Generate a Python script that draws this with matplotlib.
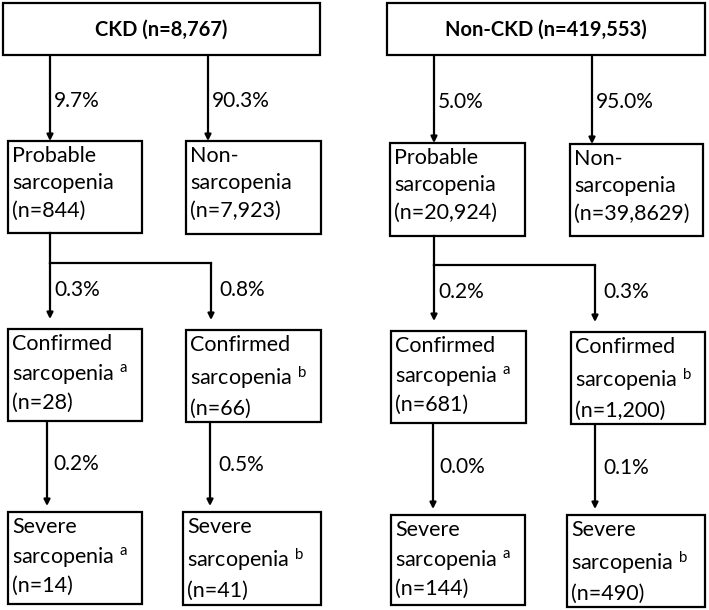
# Sarcopenia flow chart, CKD vs non-CKD
import matplotlib.pyplot as plt
from matplotlib.patches import Rectangle

plt.rcParams['font.family'] = ['Lato', 'DejaVu Sans']
plt.rcParams['mathtext.fontset'] = 'custom'
plt.rcParams['mathtext.rm'] = 'Lato'
plt.rcParams['mathtext.default'] = 'regular'

# node texts, one list per group
ckd_title = 'CKD (n=8,767)'
ckd_nodes = ['Probable\nsarcopenia\n(n=844)', 'Non-\nsarcopenia\n(n=7,923)',
             'Confirmed\nsarcopenia $^{a}$\n(n=28)', 'Confirmed\nsarcopenia $^{b}$\n(n=66)',
             'Severe\nsarcopenia $^{a}$\n(n=14)', 'Severe\nsarcopenia $^{b}$\n(n=41)']
ckd_pcts = ['9.7%', '90.3%', '0.3%', '0.8%', '0.2%', '0.5%']

non_title = 'Non-CKD (n=419,553)'
non_nodes = ['Probable\nsarcopenia\n(n=20,924)', 'Non-\nsarcopenia\n(n=39,8629)',
             'Confirmed\nsarcopenia $^{a}$\n(n=681)', 'Confirmed\nsarcopenia $^{b}$\n(n=1,200)',
             'Severe\nsarcopenia $^{a}$\n(n=144)', 'Severe\nsarcopenia $^{b}$\n(n=490)']
non_pcts = ['5.0%', '95.0%', '0.2%', '0.3%', '0.0%', '0.1%']

# layout in pixels (x0, x1, y0, y1)
ckd_layout = {
    'title': (3, 320, 3, 55),
    'boxes': [(8, 142, 141, 233), (186, 321, 141, 234),
              (8, 142, 329, 421), (186, 321, 330, 422),
              (8, 142, 512, 604), (183, 321, 512, 605)],
    'ax': [50, 208, 50, 211, 47, 210],
    'split_y': 263,
}
non_layout = {
    'title': (387, 705, 3, 55),
    'boxes': [(390, 525, 143, 236), (570, 703, 144, 236),
              (391, 526, 331, 423), (571, 705, 332, 424),
              (391, 525, 515, 605), (567, 705, 515, 607)],
    'ax': [434, 592, 434, 595, 433, 595],
    'split_y': 265,
}

LW = 1.6
FS = 15.5


def draw_box(ax, b, text, bold=False):
    x0, x1, y0, y1 = b
    ax.add_patch(Rectangle((x0, y0), x1 - x0, y1 - y0, fill=False,
                           edgecolor='black', linewidth=LW))
    if bold:
        ax.text((x0 + x1) / 2, (y0 + y1) / 2 + 1, text, ha='center', va='center',
                fontsize=14.5, fontweight='bold')
    else:
        ax.text(x0 + 4, y0 + 5, text, ha='left', va='top',
                fontsize=FS, linespacing=1.45)


def arrow(ax, x, y0, y1):
    ax.annotate('', xy=(x, y1), xytext=(x, y0),
                arrowprops=dict(arrowstyle='-|>', color='black', lw=LW,
                                mutation_scale=9, shrinkA=0, shrinkB=0))


def draw_panel(ax, title, nodes, pcts, lay):
    draw_box(ax, lay['title'], title, bold=True)
    boxes = lay['boxes']
    xs = lay['ax']
    for b, t in zip(boxes, nodes):
        draw_box(ax, b, t)
    top = lay['title'][3]
    # first level
    for i in range(2):
        arrow(ax, xs[i], top, boxes[i][2])
        ax.text(xs[i] + 4, (top + boxes[i][2]) / 2 + 3, pcts[i], fontsize=15, va='center')
    # split from probable
    sy = lay['split_y']
    ax.plot([xs[2], xs[2]], [boxes[0][3], sy], color='black', lw=LW)
    ax.plot([xs[2], xs[3]], [sy, sy], color='black', lw=LW)
    for i in (2, 3):
        arrow(ax, xs[i], sy, boxes[i][2] - 10)
        ax.text(xs[i] + 8 if i == 3 else xs[i] + 4, sy + 27, pcts[i], fontsize=15, va='center')
    # confirmed -> severe
    for i, j in ((4, 2), (5, 3)):
        y0 = boxes[j][3]
        y1 = boxes[i][2] - 6
        arrow(ax, xs[i], y0, y1)
        ax.text(xs[i] + (8 if i == 5 else 6), (y0 + y1) / 2 + 1, pcts[i], fontsize=15, va='center')


fig = plt.figure(figsize=(7.09, 6.10), dpi=100)
ax = fig.add_axes([0, 0, 1, 1])
ax.set_xlim(0, 709)
ax.set_ylim(610, 0)
ax.axis('off')

draw_panel(ax, ckd_title, ckd_nodes, ckd_pcts, ckd_layout)
draw_panel(ax, non_title, non_nodes, non_pcts, non_layout)

fig.savefig('out.png', dpi=100)
